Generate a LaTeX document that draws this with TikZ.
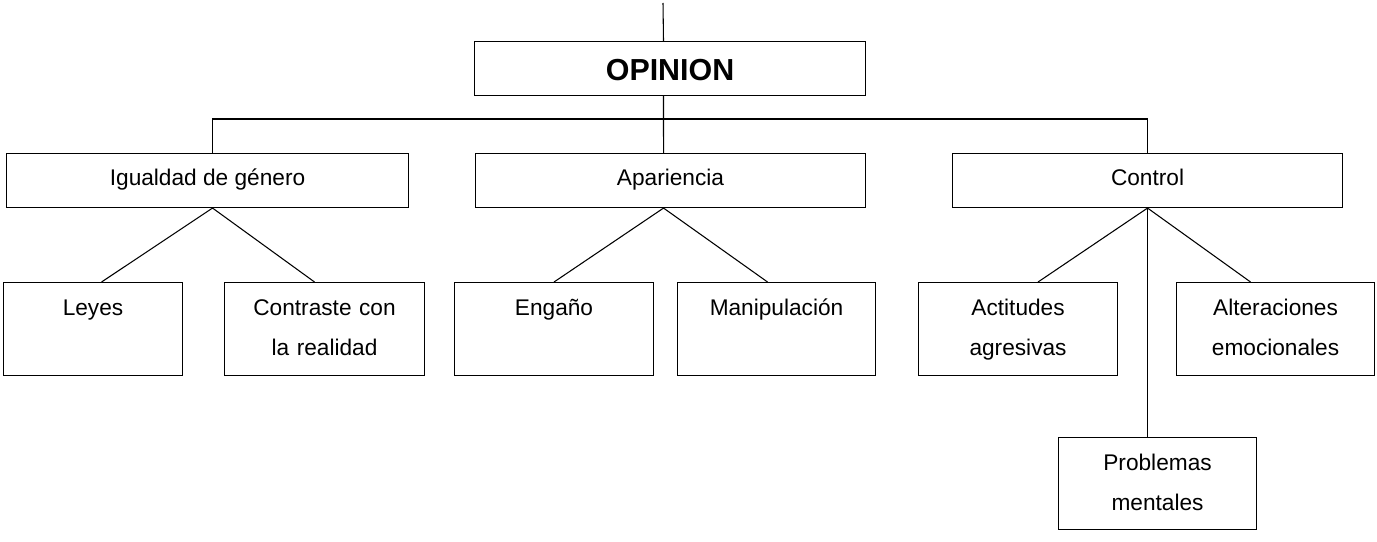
\documentclass[tikz,border=0pt]{standalone}
\usepackage{fontspec}
\setmainfont{Liberation Sans}
\begin{document}
\begin{tikzpicture}[x=0.75pt,y=-0.75pt,line width=0.8pt,
    opbox/.style={draw,anchor=north west,inner sep=0pt,minimum width=#1*0.75pt,text height=29.25pt,text depth=11.25pt,font=\fontsize{22.8}{27}\selectfont\bfseries},
    catbox/.style={draw,anchor=north west,inner sep=0pt,minimum width=#1*0.75pt,text height=24pt,text depth=16.5pt,font=\fontsize{17}{30}\selectfont},
    itembox/.style={draw,anchor=north west,inner sep=0pt,text width=#1*0.75pt,align=center,text height=24.75pt,text depth=45pt,font=\fontsize{17}{30}\selectfont}]
                \useasboundingbox (0,0) rectangle (1377,542);
                % cabecera
                \node[opbox=391] (opinion) at (474,41) {OPINION};
                \coordinate (entrada) at (663,3);
                \coordinate (bus) at (663,119);
                \draw (entrada)--([xshift=-4.9pt]opinion.north);
                % categorias
                \node[catbox=402] (igualdad) at (6,153) {Igualdad de género};
                \node[catbox=390] (apariencia) at (475,153) {Apariencia};
                \node[catbox=390] (control) at (952,153) {Control};
                \draw ([xshift=-4.9pt]opinion.south)--([xshift=-5.25pt]apariencia.north);
                \draw ([xshift=3.75pt]igualdad.north) |- (bus) -| (control.north);
                % subtemas
                \node[itembox=179] (leyes) at (3,282) {Leyes};
                \node[itembox=200] (contraste) at (224,282) {Contraste con\\la realidad};
                \node[itembox=199] (engano) at (454,282) {Engaño};
                \node[itembox=198] (manipulacion) at (677,282) {Manipulación};
                \node[itembox=199] (actitudes) at (918,282) {Actitudes\\agresivas};
                \node[itembox=198] (alteraciones) at (1176,282) {Alteraciones\\emocionales};
                \node[itembox=198,text depth=44.25pt] (problemas) at (1058,437) {Problemas\\mentales};
                \draw ([xshift=6.4pt]leyes.north)--([xshift=3.75pt]igualdad.south)--([xshift=-7.5pt]contraste.north);
                \draw (engano.north)--([xshift=-5.25pt]apariencia.south)--([xshift=-6.75pt]manipulacion.north);
                \draw ([xshift=15pt]actitudes.north)--(control.south)--([xshift=-18.75pt]alteraciones.north);
                \draw (control.south)--(control.south |- problemas.north);
\end{tikzpicture}
\end{document}
